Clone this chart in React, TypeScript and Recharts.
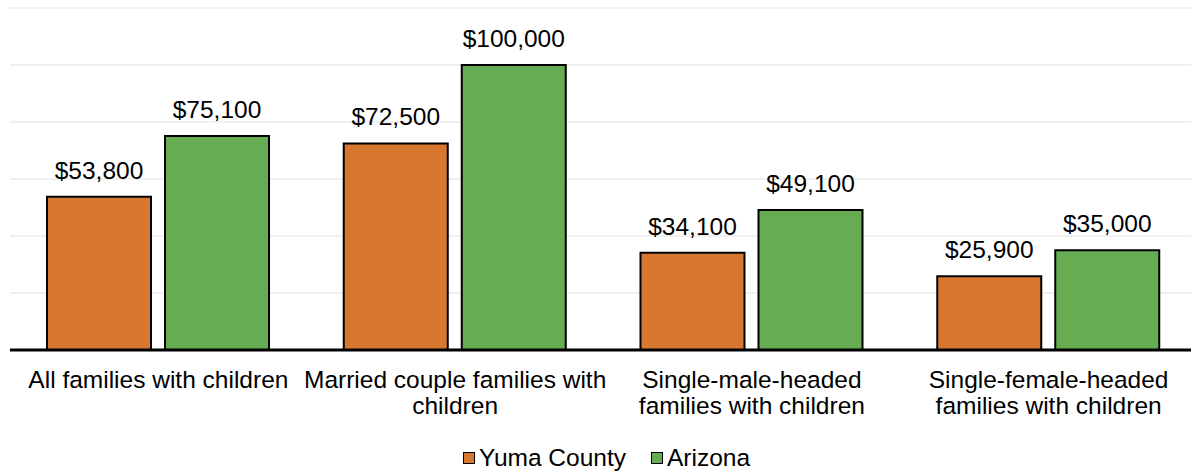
import { Bar, BarChart, CartesianGrid, LabelList, Legend, XAxis, YAxis } from "recharts";

const categories = [
  "All families with children",
  "Married couple families with\nchildren",
  "Single-male-headed\nfamilies with children",
  "Single-female-headed\nfamilies with children",
];
const yuma = [53800, 72500, 34100, 25900];
const arizona = [75100, 100000, 49100, 35000];
const yTicks = [0, 20000, 40000, 60000, 80000, 100000, 120000];

const series = [
  { key: "yuma", name: "Yuma County", color: "#D87730" },
  { key: "arizona", name: "Arizona", color: "#66AC52" },
];

const data = categories.map((name, i) => ({ name, yuma: yuma[i], arizona: arizona[i] }));

const font = "'Liberation Sans', Arial, sans-serif";
const fs = 24.5;
const money = (v: number) => "$" + v.toLocaleString("en-US");

function Tick({ x, y, payload }: any) {
  const lines = String(payload.value).split("\n");
  return (
    <text x={x} y={y} textAnchor="middle" fontSize={fs} fill="#000" fontFamily={font}>
      {lines.map((l, i) => (
        <tspan key={i} x={x} dy={i === 0 ? 38 : 26}>{l}</tspan>
      ))}
    </text>
  );
}

function LegendBox() {
  return (
    <div style={{ display: "flex", justifyContent: "center", gap: 25, fontFamily: font, fontSize: fs, color: "#000", paddingTop: 14, marginLeft: 6 }}>
      {series.map((s) => (
        <div key={s.key} style={{ display: "flex", alignItems: "center", gap: 4 }}>
          <span style={{ width: 10, height: 10, background: s.color, border: "1.5px solid #000", display: "inline-block" }} />
          {s.name}
        </div>
      ))}
    </div>
  );
}

export default function App() {
  return (
    <div style={{ position: "absolute", left: 0, top: 0, width: 1191, height: 474, overflow: "hidden", background: "#fff" }}>
      <BarChart width={1197} height={474} data={data} margin={{ top: 8, right: 0, left: 10, bottom: 0 }} barSize={104} barGap={14}>
        <CartesianGrid horizontal vertical={false} stroke="#EBEBEB" strokeWidth={1.5} />
        <YAxis hide width={0} domain={[0, 120000]} ticks={yTicks} />
        <XAxis dataKey="name" height={80} interval={0} tickLine={false} tickSize={0} tickMargin={0} axisLine={{ stroke: "#000", strokeWidth: 3 }} tick={<Tick />} />
        <Legend verticalAlign="bottom" height={44} content={<LegendBox />} />
        {series.map((s) => (
          <Bar key={s.key} dataKey={s.key} name={s.name} fill={s.color} stroke="#000" strokeWidth={2} isAnimationActive={false}>
            <LabelList dataKey={s.key} position="top" offset={18} formatter={(v: any) => money(Number(v))} style={{ fontSize: fs, fill: "#000", fontFamily: font }} />
          </Bar>
        ))}
      </BarChart>
    </div>
  );
}
